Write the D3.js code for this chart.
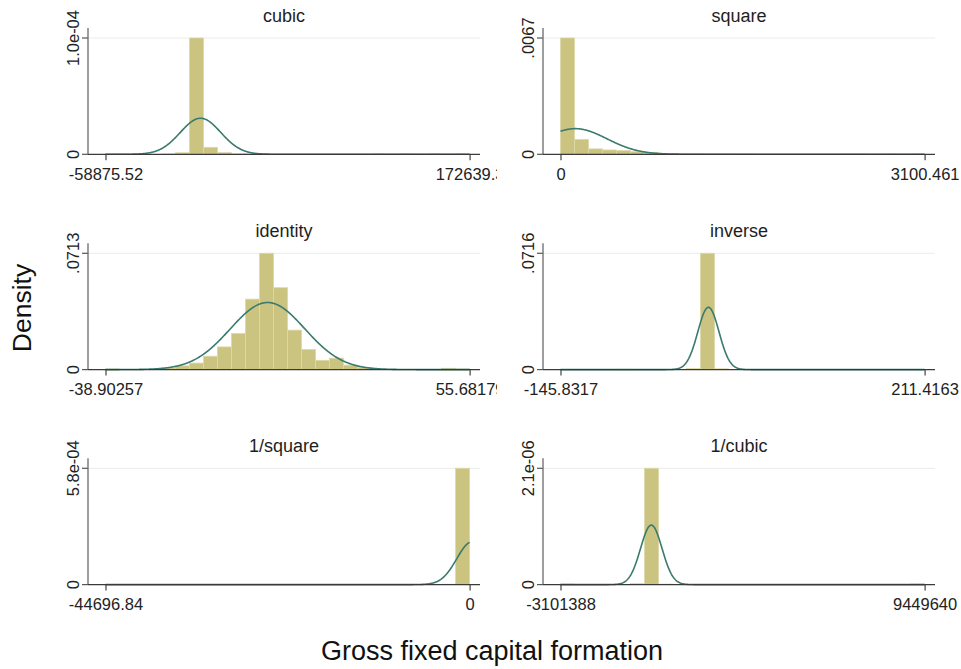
<!DOCTYPE html>
<html>
<head>
<meta charset="utf-8">
<script src="https://cdn.jsdelivr.net/npm/d3@7"></script>
<style>
  html, body { margin: 0; padding: 0; background: #ffffff; }
  svg { display: block; font-family: "Liberation Sans", Arial, sans-serif; }
</style>
</head>
<body>
<svg id="chart" width="961" height="669"></svg>
<script>
// Ladder of powers: histograms (26 bins) with a normal density overlay per transformation
const panelTitles = ["cubic", "square", "identity", "inverse", "1/square", "1/cubic"];

// data range of each transformed variable (first / last bin edge)
const xMins = [-58875.52, 0, -38.90257, -145.8317, -44696.84, -3101388];
const xMaxs = [172639.3, 3100.461, 55.68179, 211.4163, 0, 9449640];
const xTickLabels = [
  ["-58875.52", "172639.3"],
  ["0", "3100.461"],
  ["-38.90257", "55.68179"],
  ["-145.8317", "211.4163"],
  ["-44696.84", "0"],
  ["-3101388", "9449640"]
];

// top of each density axis and its label
const yMaxs = [1.0e-4, 0.0067, 0.0713, 0.0716, 5.8e-4, 2.1e-6];
const yMaxLabels = ["1.0e-04", ".0067", ".0713", ".0716", "5.8e-04", "2.1e-06"];

// bin densities, 26 bins each
const cubicDensity = [1.6e-7, 1.6e-7, 1.6e-7, 0, 3e-7, 1.3e-6, 1.0e-4, 6.0e-6, 1.4e-6, 4e-7, 3e-7, 1.6e-7, 0,
                      0, 0, 0, 0, 0, 0, 1.6e-7, 0, 1.6e-7, 0, 1.6e-7, 0, 1.6e-7];
const squareDensity = [0.0067, 0.00086, 0.00031, 0.00025, 0.00021, 0.00015, 0.0001, 0.00005, 0.00004, 0.00003,
                       0.00002, 0.00002, 0.00001, 0.00001, 0, 0, 0, 0, 0, 0, 0.00001, 0.00001, 0, 0.00001, 0, 0.00001];
const identityDensity = [0.0004, 0, 0, 0, 0.0010, 0.0023, 0.0040, 0.0082, 0.0139, 0.0221, 0.0432, 0.0713, 0.0502,
                         0.0242, 0.0123, 0.0057, 0.0070, 0.0027, 0.0012, 0, 0, 0, 0, 0, 0.0008, 0.0004];
const inverseDensity = [0.0001, 0, 0, 0, 0.0002, 0, 0, 0, 0.0002, 0.0006, 0.0716, 0.0005, 0.0001,
                        0, 0, 0, 0, 0, 0, 0, 0, 0, 0, 0, 0, 0.0001];
const invSquareDensity = [1e-6, 0, 0, 0, 0, 0, 0, 0, 0, 0, 0, 0, 1e-6, 1e-6, 0, 0, 0, 0, 0, 0, 0, 0, 0, 0,
                          2e-6, 5.8e-4];
const invCubicDensity = [1e-8, 0, 0, 0, 0, 2e-8, 2.1e-6, 1e-8, 0, 0, 0, 0, 0, 0, 0, 0, 0, 0, 0, 0, 0, 0, 0, 0, 0, 1e-8];

// mean and standard deviation of the fitted normal curves
const normalMeans = [1547, 125, 3.2, -0.7, 300, 28600];
const normalSDs = [12870, 270, 9.7, 10.4, 1870, 371400];

const densities = [cubicDensity, squareDensity, identityDensity, inverseDensity, invSquareDensity, invCubicDensity];

const svg = d3.select("#chart");

const colAxisX = [88, 543];
const rowTopY = [38, 253.3, 468.3];
const plotH = 116.3;
const axisLen = 392;
const tickFont = 16.5;

const barFill = "#cbc380";
const barEdge = "#ddd7a8";
const curveColor = "#3b7a6e";

// left column panels are cut at their graph region edge
svg.append("defs").append("clipPath").attr("id", "clipLeft")
  .append("rect").attr("x", 0).attr("y", 0).attr("width", 497).attr("height", 669);

panelTitles.forEach((title, i) => {
  const col = i % 2, row = Math.floor(i / 2);
  const ax = colAxisX[col];
  const top = rowTopY[row];
  const zero = top + plotH;

  const g = svg.append("g");
  if (col === 0) g.attr("clip-path", "url(#clipLeft)");

  const x = d3.scaleLinear().domain([xMins[i], xMaxs[i]]).range([ax + 17.5, ax + 381.6]);
  const y = d3.scaleLinear().domain([0, yMaxs[i]]).range([zero, top]);

  // gridline at the top label
  g.append("line")
    .attr("x1", ax).attr("x2", ax + axisLen)
    .attr("y1", y(yMaxs[i])).attr("y2", y(yMaxs[i]))
    .attr("stroke", "#ececec").attr("stroke-width", 1);

  // histogram bars
  const nb = densities[i].length;
  const w = (xMaxs[i] - xMins[i]) / nb;
  const bins = densities[i].map((d, k) => ({ x0: xMins[i] + k * w, x1: xMins[i] + (k + 1) * w, d }))
    .filter(b => b.d > 0);
  g.append("g").selectAll("rect").data(bins).join("rect")
    .attr("x", b => x(b.x0))
    .attr("width", b => x(b.x1) - x(b.x0))
    .attr("y", b => y(b.d))
    .attr("height", b => zero - y(b.d))
    .attr("fill", barFill)
    .attr("stroke", barEdge)
    .attr("stroke-width", 0.8);

  // normal density over the data range
  const m = normalMeans[i], s = normalSDs[i];
  const pts = d3.range(0, 801).map(j => {
    const v = xMins[i] + (xMaxs[i] - xMins[i]) * j / 800;
    const z = (v - m) / s;
    return [v, Math.exp(-0.5 * z * z) / (s * Math.sqrt(2 * Math.PI))];
  });
  g.append("path")
    .attr("d", d3.line().x(p => x(p[0])).y(p => y(p[1]))(pts))
    .attr("fill", "none")
    .attr("stroke", curveColor)
    .attr("stroke-width", 1.6);

  // y axis: two ticks, labels rotated and centred on the tick
  const yAxis = d3.axisLeft(y)
    .tickValues([0, yMaxs[i]])
    .tickFormat((d, k) => k === 0 ? "0" : yMaxLabels[i])
    .tickSize(6).tickSizeOuter(0);
  const yg = g.append("g").attr("transform", `translate(${ax},0)`).call(yAxis);
  yg.select(".domain").remove();
  yg.selectAll(".tick").attr("transform", null);
  yg.selectAll(".tick line")
    .attr("stroke", "#555").attr("stroke-width", 1.2)
    .attr("y1", d => y(d)).attr("y2", d => y(d));
  yg.selectAll(".tick text")
    .attr("transform", "rotate(-90)")
    .attr("x", d => -y(d))
    .attr("y", -9).attr("dy", null)
    .attr("text-anchor", "middle")
    .attr("font-size", tickFont)
    .attr("fill", "#222")
    .attr("font-family", "Liberation Sans, Arial, sans-serif");
  g.append("line")
    .attr("x1", ax).attr("x2", ax)
    .attr("y1", top - 10).attr("y2", zero)
    .attr("stroke", "#6a6a6a").attr("stroke-width", 1.3);

  // x axis: ticks at the data extremes
  const xAxis = d3.axisBottom(x)
    .tickValues([xMins[i], xMaxs[i]])
    .tickFormat((d, k) => xTickLabels[i][k])
    .tickSize(6).tickSizeOuter(0);
  const xg = g.append("g").attr("transform", `translate(0,${zero})`).call(xAxis);
  xg.select(".domain").remove();
  xg.selectAll(".tick line").attr("stroke", "#444").attr("stroke-width", 1.2);
  xg.selectAll(".tick text")
    .attr("y", 25.5).attr("dy", null)
    .attr("font-size", tickFont)
    .attr("fill", "#222")
    .attr("font-family", "Liberation Sans, Arial, sans-serif");
  g.append("line")
    .attr("x1", ax).attr("x2", ax + axisLen)
    .attr("y1", zero).attr("y2", zero)
    .attr("stroke", "#3a3a3a").attr("stroke-width", 1.3);

  // panel title
  svg.append("text")
    .attr("x", ax + 196).attr("y", top - 16.5)
    .attr("text-anchor", "middle")
    .attr("font-size", 18)
    .attr("fill", "#1e1e1e")
    .text(title);
});

// overall axis titles
svg.append("text")
  .attr("transform", "translate(31,308) rotate(-90)")
  .attr("text-anchor", "middle")
  .attr("font-size", 26.5)
  .attr("fill", "#111")
  .text("Density");

svg.append("text")
  .attr("x", 492).attr("y", 660)
  .attr("text-anchor", "middle")
  .attr("font-size", 27)
  .attr("fill", "#111")
  .text("Gross fixed capital formation");
</script>
</body>
</html>
